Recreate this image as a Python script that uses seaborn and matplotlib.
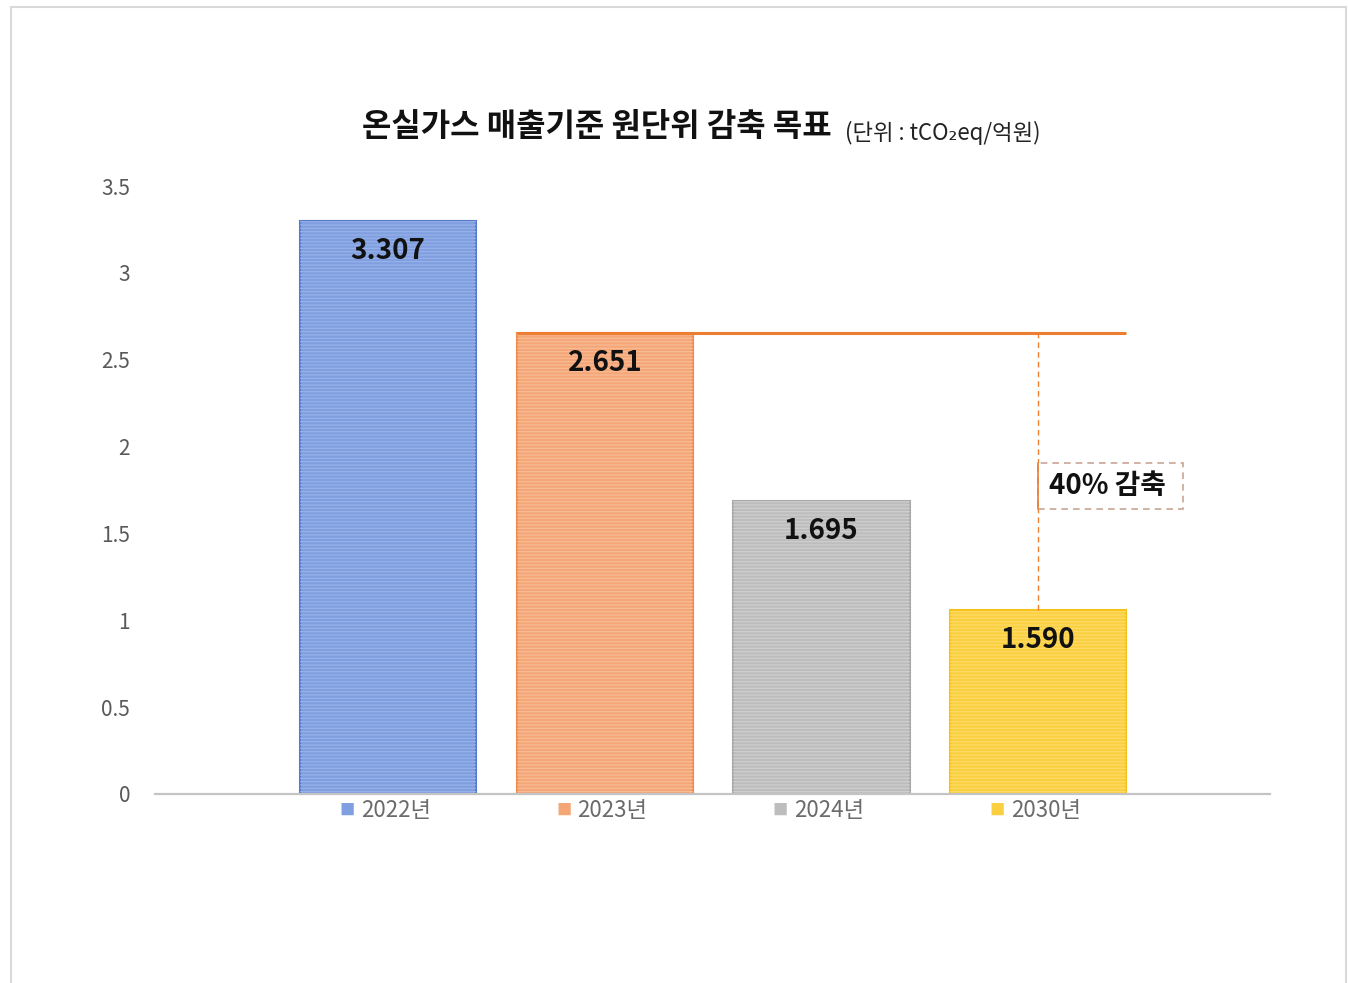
import matplotlib
matplotlib.use("Agg")
import matplotlib.pyplot as plt
import seaborn as sns
import pandas as pd
from matplotlib.patches import Rectangle
from matplotlib.transforms import blended_transform_factory

# ---- data ----
years = ["2022년", "2023년", "2024년", "2030년"]
bar_heights = [3.30, 2.651, 1.687, 1.06]          # heights as drawn in the picture
value_labels = ["3.307", "2.651", "1.695", "1.590"]
baseline_value = 2.651
title_main = "온실가스 매출기준 원단위 감축 목표"
title_unit = "(단위 : tCO₂eq/억원)"
reduction_label = "40% 감축"
yticks = [0, 0.5, 1, 1.5, 2, 2.5, 3, 3.5]
ytick_labels = ["0", "0.5", "1", "1.5", "2", "2.5", "3", "3.5"]

face_colors = ["#7f9fe0", "#f4a676", "#bdbdbd", "#fbd040"]
edge_colors = ["#5478cc", "#ee8a4c", "#a8a8a8", "#f5c21a"]
stripe_colors = ["#9ab3e8", "#f8bd98", "#d0d0d0", "#fddc6a"]

sns.set_theme(style="white")
plt.rcParams["font.family"] = ["Noto Sans CJK KR", "DejaVu Sans"]
plt.rcParams["hatch.linewidth"] = 0.8

fig = plt.figure(figsize=(13.48, 9.83), dpi=100)
ax = fig.add_axes([155 / 1348, 1 - 794 / 983, (1270 - 155) / 1348, (794 - 186) / 983])

df = pd.DataFrame({"year": years, "value": bar_heights})
bw = 0.813
sns.barplot(data=df, x="year", y="value", hue="year", palette=face_colors,
            width=bw, legend=False, ax=ax, saturation=1)
for patch, ec, sc in zip(ax.patches, edge_colors, stripe_colors):
    patch.set_edgecolor(ec)
    patch.set_linewidth(1.5)
    r = Rectangle(patch.get_xy(), patch.get_width(), patch.get_height(),
                  facecolor="none", edgecolor=sc, hatch="-----", linewidth=0,
                  zorder=patch.get_zorder() + 0.1)
    ax.add_patch(r)

ax.set_xlim(-1.076, 4.07)
ax.set_ylim(0, 3.5)
ax.set_yticks(yticks)
ax.set_yticklabels(ytick_labels, fontsize=15, color="#595959")
ax.tick_params(axis="y", length=0, pad=18)
ax.set_xticks([])
ax.set_xlabel("")
ax.set_ylabel("")
for s in ["top", "right", "left"]:
    ax.spines[s].set_visible(False)
ax.spines["bottom"].set_color("#c4c4c4")
ax.spines["bottom"].set_linewidth(1.6)

# value labels
for i, (v, lab) in enumerate(zip(bar_heights, value_labels)):
    ax.annotate(lab, (i, v), xytext=(0, -21.5), textcoords="offset points",
                ha="center", va="center", fontsize=20, fontweight="bold", color="#111111", zorder=5)

# pseudo legend under bars
trans = blended_transform_factory(ax.transData, ax.transAxes)
leg_y = -0.027
for i, (lab, c) in enumerate(zip(years, face_colors)):
    ax.annotate(lab, (i, leg_y), xycoords=trans, xytext=(5.4, 0), textcoords="offset points",
                ha="center", va="center", fontsize=16, color="#6b6b6b", annotation_clip=False)
    ax.annotate("■", (i, leg_y), xycoords=trans, xytext=(-29.5, 0), textcoords="offset points",
                ha="center", va="center", fontsize=11, color=c, annotation_clip=False)

# reference line at 2023 level
ax.plot([1 - bw / 2, 3 + bw / 2], [baseline_value, baseline_value], color="#ed7d31", lw=2.2,
        zorder=4, solid_capstyle="butt")
ax.plot([3, 3], [bar_heights[3], baseline_value], color="#ed7d31", lw=1.0, ls=(0, (4, 3)), zorder=4)
box = Rectangle((3.0, 1.64), 0.667, 0.266, facecolor="white", edgecolor="#c9a696",
                lw=1.2, ls=(0, (4, 3)), zorder=4)
ax.add_patch(box)
ax.plot([3, 3], [1.64, 1.906], color="#ed7d31", lw=1.2, zorder=4.5)
ax.text(3.321, 1.773, reduction_label, ha="center", va="center", fontsize=20,
        fontweight="bold", color="#111111", zorder=5)

# titles
fig.text(362 / 1348, 1 - 127 / 983, title_main, ha="left", va="center", fontsize=23,
         fontweight="bold", color="#111111")
fig.text(845 / 1348, 1 - 133 / 983, title_unit, ha="left", va="center", fontsize=16,
         color="#222222")

# outer frame
frame = Rectangle((11 / 1348, -0.05), (1346 - 11) / 1348, 1.05 - 7 / 983, transform=fig.transFigure,
                  facecolor="none", edgecolor="#d9d9d9", lw=1.5, zorder=0)
fig.patches.append(frame)

fig.savefig("out.png", dpi=100)
